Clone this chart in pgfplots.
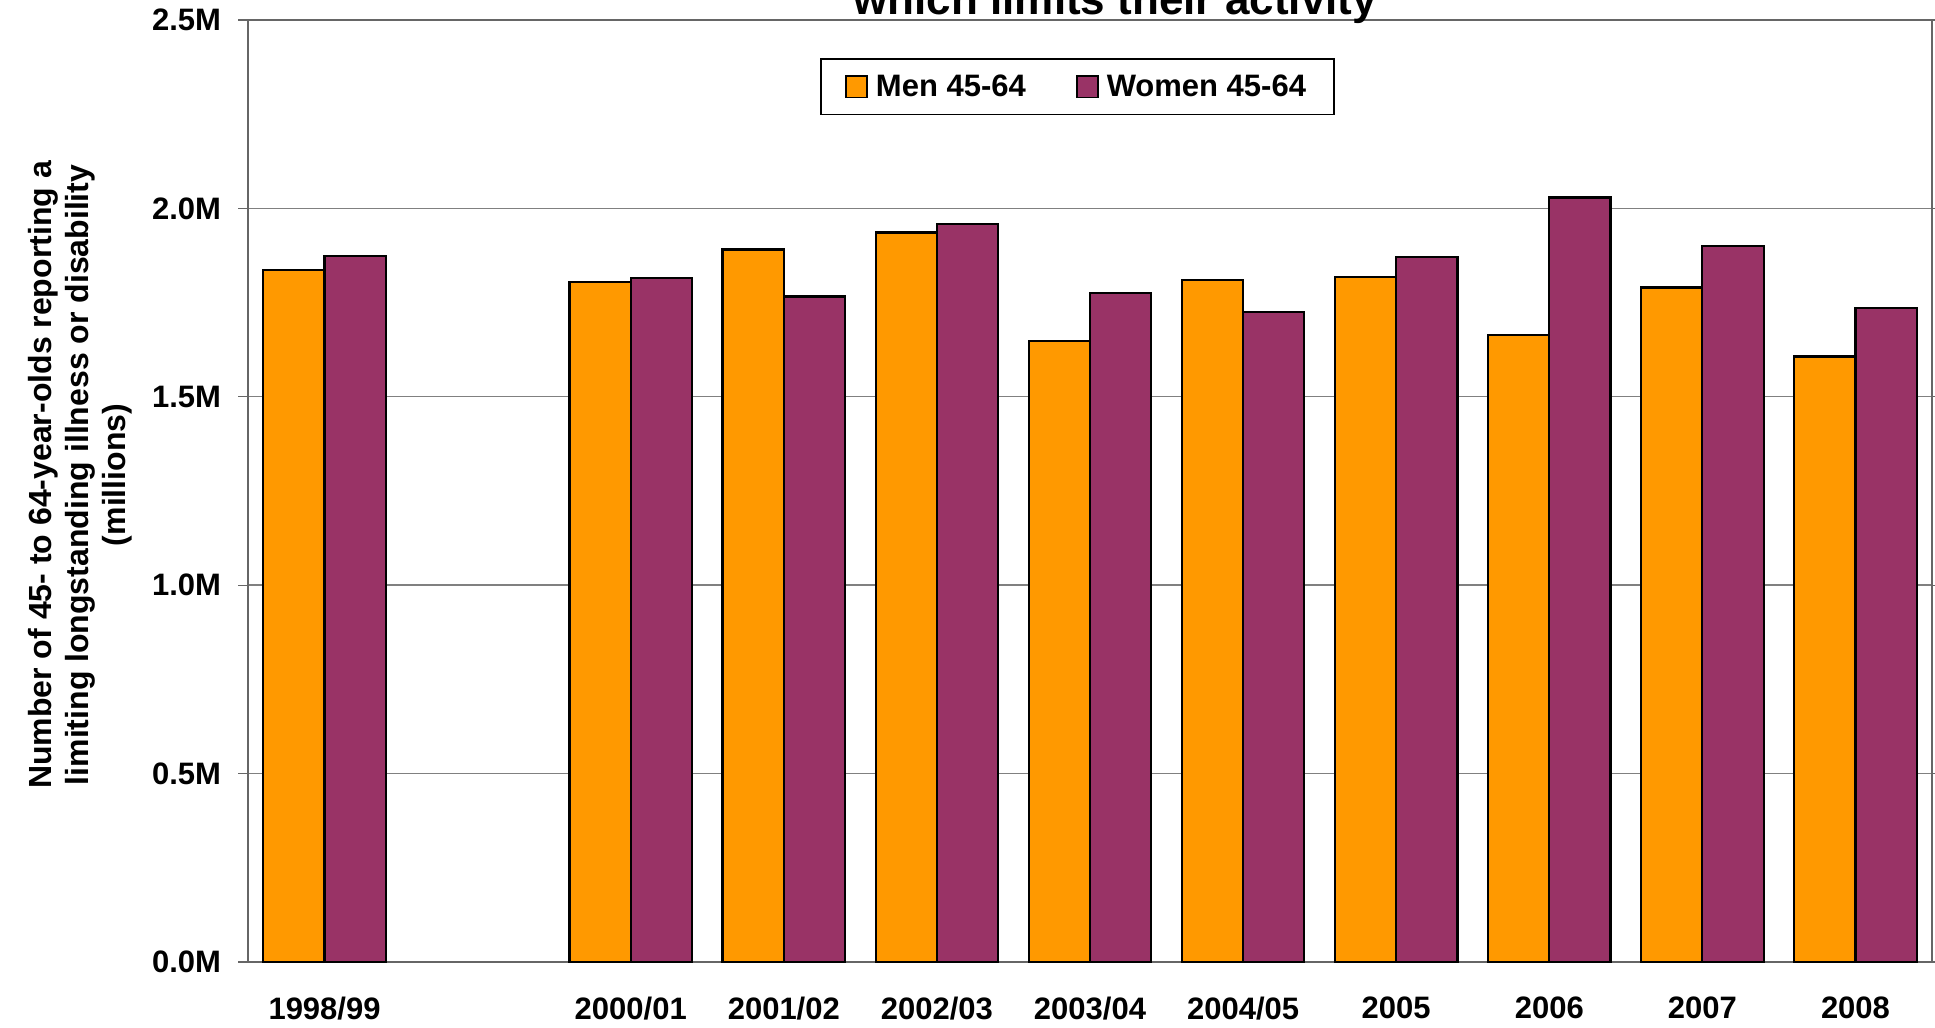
\documentclass[border=0pt]{standalone}
\usepackage{pgfplots}
\pgfplotsset{compat=1.18}
\usepackage{pgfplotstable}
\usepackage{fontspec}
\setmainfont{Liberation Sans}

\definecolor{menc}{HTML}{FF9900}
\definecolor{womc}{HTML}{993366}
\definecolor{gridc}{HTML}{808080}

% square legend swatch
\pgfplotsset{sqlegend/.style={legend image code/.code={%
    \draw[##1, line width=0.9pt] (0pt,-5.3pt) rectangle (10.6pt,5.3pt);
    \path[draw=none, fill=none] (0pt,0pt) -- (13pt,0pt);}}}

% values in millions; slot 1 (1999/00) has no data
\pgfplotstableread{
x men women
0 1.836 1.873
2 1.804 1.815
3 1.891 1.766
4 1.936 1.958
5 1.649 1.776
6 1.810 1.725
7 1.817 1.872
8 1.664 2.029
9 1.790 1.901
10 1.607 1.735
}\ltdata

\newcommand{\lbl}{\fontsize{15.5}{18.5}\selectfont\bfseries}

\begin{document}
\begin{tikzpicture}[font=\lbl]
\begin{axis}[
    width=842pt, height=471pt,
    scale only axis,
    xmin=-0.5, xmax=10.5,
    ymin=0, ymax=2.5,
    xtick={0,...,10},
    xticklabels={1998/99,,2000/01,2001/02,2002/03,2003/04,2004/05,2005,2006,2007,2008},
    minor xtick={-0.5,0.5,...,10.5},
    xtick style={draw=none},
    minor tick length=5pt,
    major tick length=5pt,
    tick align=outside,
    tick style={black!60, line width=0.6pt},
    ytick={0,0.5,...,2.5},
    yticklabel={\pgfmathprintnumber[fixed,fixed zerofill,precision=1]{\tick}M},
    /pgf/number format/assume math mode=true,
    ticklabel style={font=\lbl},
    xticklabel style={yshift=-9pt},
    yticklabel style={xshift=-5pt},
    ymajorgrids,
    major grid style={gridc, line width=0.7pt},
    axis line style={black!60, line width=0.75pt},
    ylabel={Number of 45- to 64-year-olds reporting a\\limiting longstanding illness or disability\\(millions)},
    ylabel style={at={(axis description cs:-0.0998,0.517)}, anchor=center, align=center,
        font=\fontsize{16}{18.5}\selectfont\bfseries},
    legend columns=2,
    legend style={at={(axis description cs:0.4926,0.929)}, anchor=center,
        draw=black, line width=0.6pt, font=\lbl, inner xsep=12pt, inner ysep=5.8pt,
        /tikz/every even column/.append style={column sep=23pt}},
]
\addplot[ybar, bar width=0.4, bar shift=-0.2, fill=menc, draw=black, line width=1.1pt, sqlegend]
    table[x=x, y=men] {\ltdata};
\addlegendentry{Men 45-64}
\addplot[ybar, bar width=0.4, bar shift=0.2, fill=womc, draw=black, line width=1.1pt, sqlegend]
    table[x=x, y=women] {\ltdata};
\addlegendentry{Women 45-64}
\coordinate (bl) at (rel axis cs:0,0);
\coordinate (tr) at (rel axis cs:1,1);
\coordinate (tt) at (rel axis cs:0.515,1);
\end{axis}
\node[anchor=base, font=\fontsize{22}{24}\selectfont\bfseries, inner sep=0pt] at ([yshift=2.5pt]tt) {which limits their activity};
\pgfresetboundingbox
\path[use as bounding box] ([shift={(-124pt,-32.5pt)}]bl) rectangle ([shift={(1.5pt,10pt)}]tr);
\end{tikzpicture}
\end{document}
